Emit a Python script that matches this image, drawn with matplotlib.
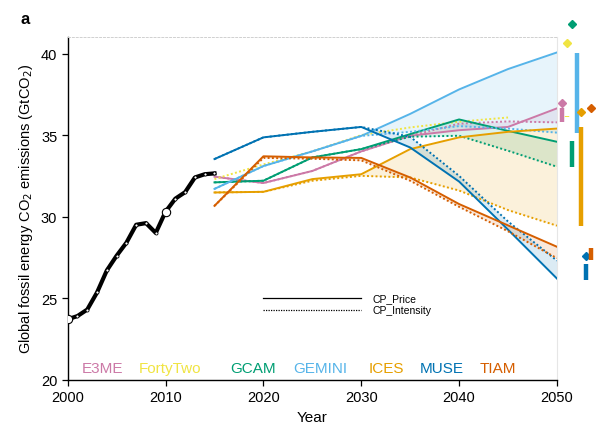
import matplotlib
matplotlib.use('Agg')
import matplotlib.pyplot as plt

plt.rcParams['font.family'] = ['Liberation Sans', 'DejaVu Sans']

# historical emissions
hist_years = list(range(2000, 2016))
hist_vals = [23.7, 23.9, 24.3, 25.35, 26.7, 27.6, 28.4, 29.5, 29.6, 29.0,
             30.3, 31.1, 31.5, 32.4, 32.6, 32.65]

years = [2015, 2020, 2025, 2030, 2035, 2040, 2045, 2050]
models = ['E3ME', 'FortyTwo', 'GCAM', 'GEMINI', 'ICES', 'MUSE', 'TIAM']
colors = ['#CC79A7', '#F0E442', '#009E73', '#56B4E9', '#E69F00', '#0072B2', '#D55E00']

# CP_Price (solid) and CP_Intensity (dotted)
e3me_price = [32.45, 32.06, 32.8, 34.0, 34.96, 35.3, 35.5, 36.64]
e3me_int = [32.45, 32.06, 32.8, 34.0, 34.96, 35.7, 35.84, 35.78]
fortytwo_int = [32.3, 33.2, 34.0, 35.0, 35.47, 35.82, 36.08]
gcam_price = [32.1, 32.2, 33.63, 34.14, 35.06, 35.96, 35.26, 34.59]
gcam_int = [32.1, 32.2, 33.63, 34.14, 34.9, 34.96, 34.04, 33.06]
gemini_price = [31.7, 33.1, 34.0, 34.95, 36.3, 37.8, 39.05, 40.07]
gemini_int = [31.7, 33.1, 34.0, 34.95, 35.2, 35.55, 35.4, 35.15]
ices_price = [31.48, 31.52, 32.3, 32.6, 34.14, 34.86, 35.2, 35.4]
ices_int = [31.48, 31.52, 32.2, 32.5, 32.4, 31.6, 30.4, 29.44]
muse_price = [33.53, 34.86, 35.2, 35.5, 34.24, 32.15, 29.2, 26.2]
muse_int = [33.53, 34.86, 35.2, 35.5, 34.9, 32.5, 29.7, 27.3]
tiam_price = [30.66, 33.7, 33.63, 33.6, 32.4, 30.77, 29.46, 28.15]
tiam_int = [30.66, 33.6, 33.55, 33.45, 32.2, 30.6, 29.1, 27.45]

# 2050 side markers: ranges (bars) and diamonds
side_x = [2050.5, 2051.0, 2051.5, 2052.05, 2052.5, 2053.0, 2053.5]
side_lo = [35.78, 36.1, 33.02, 35.1, 29.4, 26.12, 27.35]
side_hi = [36.64, 36.2, 34.65, 40.03, 35.47, 27.09, 28.1]
side_diamond = [36.95, 40.63, 41.81, None, 36.43, 27.6, 36.64]

fig = plt.figure(figsize=(6.1, 4.35), dpi=100)
ax = fig.add_axes([0.111, 0.125, 0.802, 0.787])

pairs = [(e3me_price, e3me_int), (None, fortytwo_int), (gcam_price, gcam_int),
         (gemini_price, gemini_int), (ices_price, ices_int),
         (muse_price, muse_int), (tiam_price, tiam_int)]

for (price, inten), c in zip(pairs, colors):
    if price is not None:
        ax.fill_between(years, price, inten, color=c, alpha=0.14, lw=0)
        ax.plot(years, price, color=c, lw=1.4, zorder=3)
    ax.plot(years[:len(inten)], inten, color=c, lw=1.4, ls=(0, (1, 1.2)), zorder=3)

ax.plot(hist_years, hist_vals, color='black', lw=3, zorder=5,
        marker='o', ms=2.2, mfc='white', mec='black', mew=0.6)
ax.plot([2000, 2010], [hist_vals[0], hist_vals[10]], ls='none', marker='o',
        ms=6, mfc='white', mec='black', mew=0.8, zorder=6)

for x, lo, hi, d, c in zip(side_x, side_lo, side_hi, side_diamond, colors):
    ax.plot([x, x], [lo, hi], color=c, lw=3.2, solid_capstyle='butt', clip_on=False)
    if d is not None:
        ax.plot(x, d, marker='D', ms=4, color=c, clip_on=False)

# line style legend
ax.plot([2020, 2030], [25.0, 25.0], color='black', lw=0.9)
ax.plot([2020, 2030], [24.3, 24.3], color='black', lw=0.9, ls=(0, (1, 1)))
ax.text(2031.1, 25.0, 'CP_Price', fontsize=7.5, va='center')
ax.text(2031.1, 24.3, 'CP_Intensity', fontsize=7.5, va='center')

label_x = [2003.6, 2010.5, 2018.9, 2025.8, 2032.6, 2038.2, 2044.0]
for name, x, c in zip(models, label_x, colors):
    ax.text(x, 20.7, name, color=c, fontsize=11, ha='center', va='center')

ax.set_xlim(2000, 2050)
ax.set_ylim(20, 41)
ax.set_xticks([2000, 2010, 2020, 2030, 2040, 2050])
ax.set_yticks([20, 25, 30, 35, 40])
ax.tick_params(labelsize=10.5, length=4, width=0.9, direction='out')
ax.spines['top'].set_linestyle((0, (2, 2)))
ax.spines['top'].set_color('#d0d0d0')
ax.spines['top'].set_linewidth(0.7)
ax.spines['right'].set_color('#e6e6e6')
ax.spines['right'].set_linewidth(0.8)
ax.spines['left'].set_linewidth(1.0)
ax.spines['bottom'].set_linewidth(1.0)

ax.set_xlabel('Year', fontsize=11)
ax.set_ylabel('Global fossil energy CO$_2$ emissions (GtCO$_2$)', fontsize=10.5)
fig.text(0.033, 0.955, 'a', fontsize=12, fontweight='bold', va='center')

fig.savefig('out.png', dpi=100)
